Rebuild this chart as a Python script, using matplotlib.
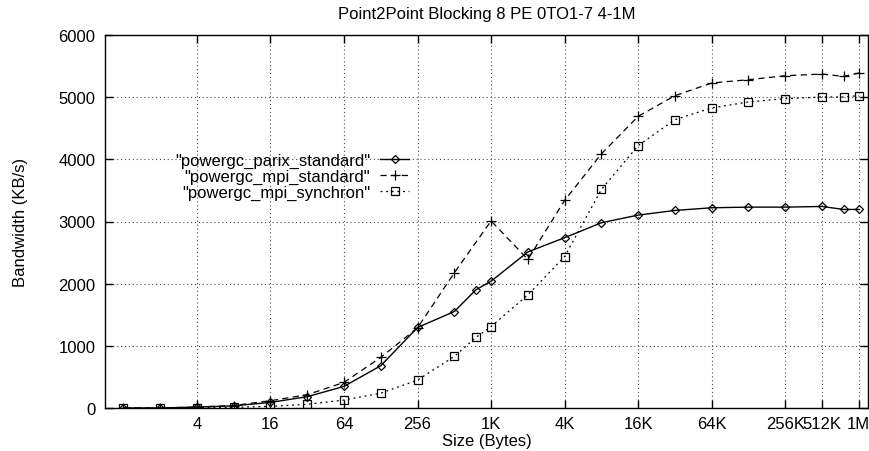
import matplotlib
matplotlib.use("Agg")
import matplotlib.pyplot as plt

plt.rcParams['font.family'] = ['Liberation Sans', 'DejaVu Sans']

# message sizes in bytes (mpi_standard has no 768 point)
sizes = [1, 2, 4, 8, 16, 32, 64, 128, 256, 512, 768, 1024, 2048, 4096, 8192,
         16384, 32768, 65536, 131072, 262144, 524288, 786432, 1048576]
sizes_mpi = [1, 2, 4, 8, 16, 32, 64, 128, 256, 512, 1024, 2048, 4096, 8192,
             16384, 32768, 65536, 131072, 262144, 524288, 786432, 1048576]

parix_standard = [0, 0, 15, 35, 90, 182, 348, 680, 1295, 1552, 1900, 2040, 2510,
                  2740, 2980, 3103, 3178, 3221, 3231, 3231, 3242, 3194, 3194]
mpi_standard = [0, 0, 15, 40, 117, 214, 412, 814, 1290, 2175, 3010, 2390, 3340,
                4088, 4692, 5024, 5228, 5281, 5345, 5372, 5334, 5388]
mpi_synchron = [0, 0, 5, 10, 27, 59, 128, 238, 450, 830, 1135, 1310, 1820,
                2435, 3515, 4221, 4639, 4827, 4923, 4976, 5003, 5003, 5024]

tick_pos = [4, 16, 64, 256, 1024, 4096, 16384, 65536, 262144, 524288, 1048576]
tick_labels = ['4', '16', '64', '256', '1K', '4K', '16K', '64K', '256K', '512K', '1M']

fig = plt.figure(figsize=(8.69, 4.52), dpi=100)
ax = fig.add_axes([105 / 869, 1 - 409 / 452, 763 / 869, 373 / 452])

ax.plot(sizes, parix_standard, color='black', lw=1.0, ls='-',
        marker='D', ms=4.5, mfc='none', mec='black', mew=0.9,
        label='"powergc_parix_standard"')
ax.plot(sizes_mpi, mpi_standard, color='black', lw=0.9, ls=(0, (5, 3.5)),
        marker='+', ms=7, mec='black', mew=0.9,
        label='"powergc_mpi_standard"')
ax.plot(sizes, mpi_synchron, color='black', lw=0.9, ls=(0, (1.5, 3)),
        marker='s', ms=5.5, mfc='none', mec='black', mew=0.9,
        label='"powergc_mpi_synchron"')

ax.set_xscale('log', base=2)
ax.set_xlim(2 ** -0.5, 2 ** 20.25)
ax.set_ylim(0, 6000)
ax.set_xticks(tick_pos)
ax.set_xticklabels(tick_labels)
ax.minorticks_off()
ax.set_yticks(range(0, 6001, 1000))

ax.tick_params(direction='in', length=6, width=1, top=True, right=True,
               labelsize=12, color='black')
ax.tick_params(axis='x', pad=6)
ax.tick_params(axis='y', pad=7)
for s in ax.spines.values():
    s.set_linewidth(1.0)
    s.set_color('black')

ax.grid(True, color='0.3', ls=(0, (1, 2.5)), lw=0.8)

ax.set_title('Point2Point Blocking 8 PE 0TO1-7 4-1M', fontsize=12, pad=12)
ax.set_xlabel('Size (Bytes)', fontsize=12, labelpad=1)
ax.set_ylabel('Bandwidth (KB/s)', fontsize=12, labelpad=22)

ax.legend(loc='center right', bbox_to_anchor=(417 / 869, 1 - 177.7 / 452),
          bbox_transform=fig.transFigure, frameon=False, markerfirst=False,
          fontsize=12, borderpad=0, handlelength=1.7, handletextpad=0.6,
          labelspacing=0.05)

fig.savefig('out.png', dpi=100)
